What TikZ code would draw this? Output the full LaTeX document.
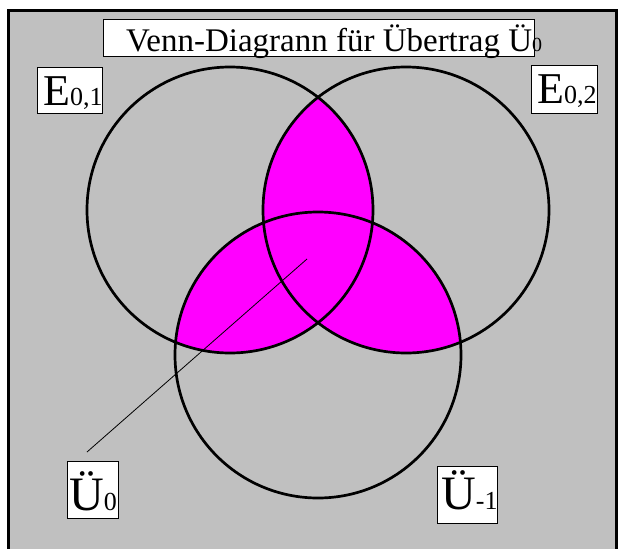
\documentclass[tikz,border=0pt]{standalone}
\usepackage{fontspec}
\setmainfont{Liberation Serif}
\definecolor{bggray}{HTML}{C0C0C0}
\definecolor{venmag}{HTML}{FF00FF}
\tikzset{
  labelbox/.style={draw=black, line width=0.8pt, fill=white, inner sep=0pt},
  venncircle/.style={draw=black, line width=2.7pt},
  big/.style={font=\fontsize{44}{48}\selectfont, inner sep=0pt, anchor=base west},
  bigu/.style={font=\fontsize{48}{52}\selectfont, inner sep=0pt, anchor=base west},
}
\newcommand{\smalltxt}[1]{{\fontsize{26}{28}\selectfont #1}}
\begin{document}
\begin{tikzpicture}[x=1pt,y=-1pt]
\useasboundingbox (0,0) rectangle (624,549);
% background frame
\fill[bggray] (8.5,10.5) rectangle (616.5,549);
\draw[line width=3pt] (8.5,549) -- (8.5,10.5) -- (616.5,10.5) -- (616.5,549);
% circle centres
\coordinate (c1) at (230,210);
\coordinate (c2) at (406,210);
\coordinate (c3) at (318,355);
% magenta fills: pairwise intersections
\begin{scope}
  \clip (c1) circle[radius=143pt];
  \fill[venmag] (c2) circle[radius=143pt];
  \fill[venmag] (c3) circle[radius=143pt];
\end{scope}
\begin{scope}
  \clip (c2) circle[radius=143pt];
  \fill[venmag] (c3) circle[radius=143pt];
\end{scope}
% circles
\draw[venncircle] (c1) circle[radius=143pt];
\draw[venncircle] (c2) circle[radius=143pt];
\draw[venncircle] (c3) circle[radius=143pt];
% leader line
\coordinate (lstart) at (87,452);
\coordinate (lend) at (307,259);
\draw[line width=0.8pt] (lstart) -- (lend);
% title
\node[labelbox, minimum width=431pt, minimum height=37pt] (titlebox) at (318.5,37.5) {};
\node[anchor=base west, inner sep=0pt, font=\fontsize{33}{36}\selectfont] (title) at (126,51)
  {Venn-Diagrann für Übertrag Ü{\fontsize{20}{22}\selectfont 0}};
% E0,1
\node[labelbox, minimum width=65pt, minimum height=46pt] (e1box) at (69.5,90) {};
\node[big] (e1) at (43,105) {E\smalltxt{0,1}};
% E0,2
\node[labelbox, minimum width=66pt, minimum height=48pt] (e2box) at (564,89) {};
\node[big] (e2) at (537,103) {E\smalltxt{0,2}};
% U0
\node[labelbox, minimum width=51pt, minimum height=57pt] (u0box) at (92.5,489.5) {};
\node[bigu] (u0) at (69,510) {Ü\smalltxt{0}};
% U-1
\node[labelbox, minimum width=60pt, minimum height=57pt] (u1box) at (467,494.5) {};
\node[bigu] (u1) at (441,509) {Ü\smalltxt{-1}};
\end{tikzpicture}
\end{document}
